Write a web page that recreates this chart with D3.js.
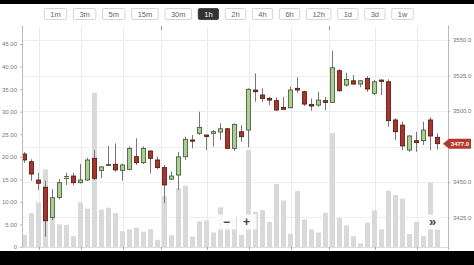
<!DOCTYPE html>
<html>
<head>
<meta charset="utf-8">
<script src="https://cdn.jsdelivr.net/npm/d3@7"></script>
<style>
  body { margin: 0; background: #000; }
  svg { display: block; font-family: "Liberation Sans", Arial, sans-serif; }
</style>
</head>
<body>
<div id="chart"></div>
<script>
var width = 474, height = 265;

// candles (1h)
var opens  = [3469.7,3464.3,3451.4,3446.3,3425.1,3439.2,3452.5,3454.2,3449.5,3451.4,
              3466.7,3458.2,3461.7,3462.5,3458.2,3458.9,3467.8,3463.6,3471.8,3465.5,
              3460.1,3452.0,3454.9,3467.8,3479.6,3484.3,3483.1,3484.3,3485.2,3487.5,
              3473.7,3485.4,3486.6,3514.8,3511.3,3508.9,3507.3,3502.6,3502.3,3516.0,
              3513.6,3504.7,3504.2,3507.3,3506.1,3528.4,3518.3,3521.3,3519.0,3523.0,
              3512.5,3521.8,3520.6,3493.7,3490.1,3472.5,3479.1,3479.1,3493.7,3481.5];
var highs  = [3471.0,3466.0,3456.5,3450.9,3445.0,3452.1,3456.5,3456.5,3462.7,3466.9,
              3472.5,3461.3,3475.4,3477.2,3463.0,3475.0,3480.8,3475.0,3472.5,3467.8,
              3462.0,3457.3,3471.3,3481.9,3483.1,3499.5,3483.5,3486.6,3491.3,3488.0,
              3491.3,3490.0,3516.0,3526.5,3516.0,3510.0,3509.6,3510.0,3517.1,3523.7,
              3514.3,3508.9,3513.6,3510.0,3542.5,3529.4,3527.0,3525.4,3521.8,3524.6,
              3521.8,3522.3,3522.3,3494.9,3492.5,3483.1,3485.4,3492.5,3495.6,3484.3];
var lows   = [3463.5,3450.9,3444.4,3411.5,3423.2,3437.8,3447.9,3447.9,3449.0,3450.7,
              3451.4,3452.8,3461.3,3457.3,3450.9,3458.2,3462.0,3462.7,3456.1,3459.2,
              3435.0,3451.4,3444.4,3465.5,3473.7,3483.1,3472.5,3474.9,3479.6,3473.0,
              3472.0,3478.4,3474.4,3506.6,3506.5,3504.2,3500.2,3500.7,3501.9,3512.9,
              3503.5,3500.2,3503.0,3500.7,3505.8,3513.6,3517.1,3518.3,3516.7,3513.6,
              3511.3,3511.3,3488.9,3479.6,3472.5,3471.3,3471.3,3476.1,3472.5,3473.0];
var closes = [3465.5,3455.6,3449.1,3422.7,3438.9,3449.5,3453.8,3449.5,3451.4,3465.5,
              3452.6,3460.6,3462.4,3458.5,3462.0,3473.7,3463.6,3473.7,3466.7,3460.1,
              3447.9,3454.2,3467.7,3480.1,3479.1,3488.5,3482.0,3485.4,3487.5,3473.7,
              3490.6,3481.9,3515.3,3513.6,3508.9,3507.7,3500.7,3501.2,3514.8,3514.8,
              3504.9,3503.5,3507.7,3506.1,3530.5,3514.3,3522.3,3519.0,3521.3,3515.5,
              3520.6,3520.9,3493.2,3485.4,3475.4,3482.4,3477.7,3486.6,3482.4,3477.0];
var volumes = [2.7,7.5,9.9,17.2,8.5,5.0,4.9,2.4,9.9,8.5,
               34.2,8.3,8.7,7.5,3.5,3.9,4.3,3.4,4.0,1.6,
               11.2,2.6,13.0,13.6,2.3,5.7,5.9,3.2,8.8,6.0,
               6.5,2.7,21.5,7.8,8.2,5.6,14.0,10.3,2.9,12.4,
               6.1,3.9,3.2,7.6,25.3,6.4,4.8,2.4,0.8,5.4,
               8.1,3.9,12.5,11.5,10.7,2.9,5.6,2.4,14.3,3.9];

var intervals = ['1m','3m','5m','15m','30m','1h','2h','4h','6h','12h','1d','3d','1w'];
var activeInterval = '1h';

var volTicks = [0,5,10,15,20,25,30,35,40,45];
var priceTicks = [3425,3450,3475,3500,3525,3550];
var gridIdx = [2,8,14,26,32,38,50,56];   // regular vertical grid, on candles
var dayIdx = [20,44];                    // day boundaries

var data = opens.map(function(o, i) {
    return {i: i, open: o, high: highs[i], low: lows[i], close: closes[i], volume: volumes[i]};
});

var plot = {left: 22, right: 448, top: 27, bottom: 247};

var x = d3.scaleBand()
    .domain(d3.range(data.length))
    .range([21, 441])
    .paddingInner(0.28)
    .paddingOuter(0.14);

var yPrice = d3.scaleLinear()
    .domain([3404.2, 3559.2])
    .range([plot.bottom, plot.top]);

var yVol = d3.scaleLinear()
    .domain([0, 48.77])
    .range([plot.bottom, plot.top]);

var last = data[data.length - 1];

var svg = d3.select("#chart").append("svg")
    .attr("width", width)
    .attr("height", height);

// white panel between the black bands
svg.append("rect")
    .attr("x", 0).attr("y", 4)
    .attr("width", width).attr("height", 247)
    .attr("fill", "#fff");

// interval buttons
var btnG = svg.append("g").attr("class", "buttons");
var bx = 44.3;
intervals.forEach(function(label) {
    var g = btnG.append("g");
    var t = g.append("text")
        .attr("y", 17)
        .attr("text-anchor", "middle")
        .style("font-size", "7.5px")
        .attr("fill", label == activeInterval ? "#fff" : "#666")
        .text(label);
    var w = t.node().getComputedTextLength() + 12;
    g.insert("rect", "text")
        .attr("x", bx).attr("y", 8.5)
        .attr("width", w).attr("height", 11)
        .attr("rx", 1.5)
        .attr("fill", label == activeInterval ? "#333" : "#fff")
        .attr("stroke", label == activeInterval ? "#333" : "#ccc")
        .attr("stroke-width", 0.8);
    t.attr("x", bx + w / 2);
    bx += w + 6.7;
});

// horizontal grid from the price axis
svg.append("g")
    .selectAll("line")
    .data(priceTicks)
    .enter().append("line")
    .attr("x1", plot.left).attr("x2", plot.right)
    .attr("y1", function(d) { return Math.round(yPrice(d)) + 0.5; })
    .attr("y2", function(d) { return Math.round(yPrice(d)) + 0.5; })
    .attr("stroke", "#eee");

// vertical grid
var gridX = gridIdx.map(function(i) { return x(i) + x.bandwidth() / 2; });
var dayX = dayIdx.map(function(i) { return x(i) - (x.step() - x.bandwidth()) / 2; });

svg.append("g")
    .selectAll("line")
    .data(gridX.concat(dayX))
    .enter().append("line")
    .attr("x1", function(d) { return Math.round(d) + 0.5; })
    .attr("x2", function(d) { return Math.round(d) + 0.5; })
    .attr("y1", plot.top).attr("y2", plot.bottom)
    .attr("stroke", "#ececec");

// little ticks on top for the day boundaries and axes
svg.append("g")
    .selectAll("line")
    .data(dayX.concat([plot.left, plot.right]))
    .enter().append("line")
    .attr("x1", function(d) { return Math.round(d) + 0.5; })
    .attr("x2", function(d) { return Math.round(d) + 0.5; })
    .attr("y1", 26).attr("y2", 30)
    .attr("stroke", "#999");

// volume bars
svg.append("g")
    .selectAll("rect")
    .data(data)
    .enter().append("rect")
    .attr("x", function(d) { return x(d.i); })
    .attr("width", x.bandwidth())
    .attr("y", function(d) { return yVol(d.volume); })
    .attr("height", function(d) { return yVol(0) - yVol(d.volume); })
    .attr("fill", "#d9d9d9");

// candles
var candles = svg.append("g")
    .selectAll("g")
    .data(data)
    .enter().append("g");

candles.append("line")
    .attr("x1", function(d) { return x(d.i) + x.bandwidth() / 2; })
    .attr("x2", function(d) { return x(d.i) + x.bandwidth() / 2; })
    .attr("y1", function(d) { return yPrice(d.high); })
    .attr("y2", function(d) { return yPrice(d.low); })
    .attr("stroke", "#777")
    .attr("stroke-width", 1);

candles.append("rect")
    .attr("x", function(d) { return x(d.i) + 0.4; })
    .attr("width", x.bandwidth() - 0.8)
    .attr("y", function(d) { return yPrice(Math.max(d.open, d.close)); })
    .attr("height", function(d) {
        return Math.max(1.2, Math.abs(yPrice(d.open) - yPrice(d.close)));
    })
    .attr("fill", function(d) { return d.close >= d.open ? "#a9d08e" : "#a8342a"; })
    .attr("stroke", function(d) { return d.close >= d.open ? "#3f4f38" : "#4d1812"; })
    .attr("stroke-width", 0.8);

// left axis (volume)
var leftAxis = svg.append("g")
    .attr("transform", "translate(" + plot.left + ",0)")
    .call(d3.axisLeft(yVol)
        .tickValues(volTicks)
        .tickSize(2)
        .tickFormat(function(d) { return d == 0 ? "0" : d3.format(".2f")(d); }));

// right axis (price); the label under the last-price tag is hidden
var rightAxis = svg.append("g")
    .attr("transform", "translate(" + plot.right + ",0)")
    .call(d3.axisRight(yPrice)
        .tickValues(priceTicks)
        .tickSize(2)
        .tickFormat(d3.format(".1f")));

rightAxis.selectAll(".tick")
    .filter(function(d) { return Math.abs(yPrice(d) - yPrice(last.close)) < 9; })
    .select("text").remove();

[leftAxis, rightAxis].forEach(function(a) {
    a.select(".domain").attr("stroke", "#bbb").attr("d",
        a === leftAxis ? "M0.5," + plot.top + "V" + plot.bottom : "M0.5," + plot.top + "V" + (plot.bottom + 3));
    a.selectAll(".tick line").attr("stroke", "#bbb");
    a.selectAll("text").attr("fill", "#777").style("font-size", "6px");
});

// bottom axis line with ticks
svg.append("line")
    .attr("x1", plot.left).attr("x2", plot.right)
    .attr("y1", plot.bottom + 0.5).attr("y2", plot.bottom + 0.5)
    .attr("stroke", "#ddd");

svg.append("g")
    .selectAll("line")
    .data(gridX.concat(dayX))
    .enter().append("line")
    .attr("x1", function(d) { return Math.round(d) + 0.5; })
    .attr("x2", function(d) { return Math.round(d) + 0.5; })
    .attr("y1", plot.bottom).attr("y2", plot.bottom + 3)
    .attr("stroke", "#aaa");

// last price tag
var ty = yPrice(last.close);
svg.append("path")
    .attr("d", "M443," + ty + "L449," + (ty - 5) + "H471V" + (ty + 5) + "H449Z")
    .attr("fill", "#b5382b");
svg.append("text")
    .attr("x", 460).attr("y", ty + 2.2)
    .attr("text-anchor", "middle")
    .attr("fill", "#fff")
    .style("font-size", "6px")
    .style("font-weight", "bold")
    .text(d3.format(".1f")(last.close));

// zoom controls
var zc = svg.append("g");
zc.append("rect")
    .attr("x", 216.5).attr("y", 214.5)
    .attr("width", 40).attr("height", 15)
    .attr("fill", "#fff").attr("fill-opacity", 0.85);
zc.append("line")
    .attr("x1", 236.5).attr("x2", 236.5)
    .attr("y1", 216).attr("y2", 228)
    .attr("stroke", "#ddd");
zc.append("text")
    .attr("x", 226.5).attr("y", 226)
    .attr("text-anchor", "middle")
    .attr("fill", "#444")
    .style("font-size", "12px").style("font-weight", "bold")
    .text("\u2212");
zc.append("text")
    .attr("x", 246.5).attr("y", 226)
    .attr("text-anchor", "middle")
    .attr("fill", "#444")
    .style("font-size", "12px").style("font-weight", "bold")
    .text("+");

var nav = svg.append("g");
nav.append("rect")
    .attr("x", 425).attr("y", 214.5)
    .attr("width", 15).attr("height", 15)
    .attr("fill", "#fff").attr("fill-opacity", 0.9);
nav.append("text")
    .attr("x", 432.5).attr("y", 226)
    .attr("text-anchor", "middle")
    .attr("fill", "#444")
    .style("font-size", "13px").style("font-weight", "bold")
    .text("\u00bb");
</script>
</body>
</html>
